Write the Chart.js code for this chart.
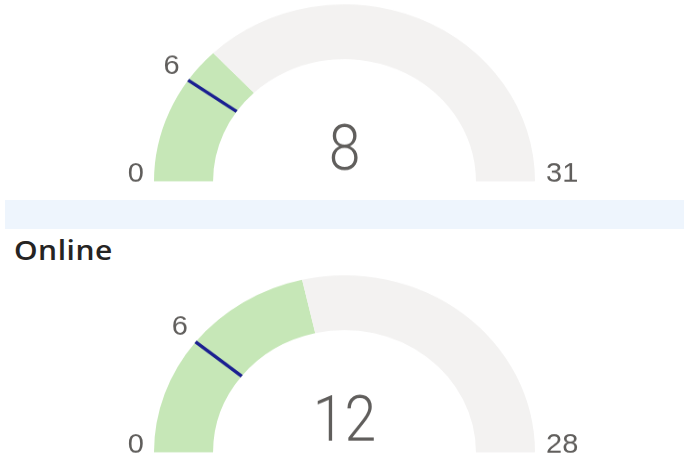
<!DOCTYPE html>
<html>
<head>
<meta charset="utf-8">
<script src="https://cdn.jsdelivr.net/npm/chart.js@4.4.1/dist/chart.umd.min.js"></script>
<style>
  body { margin: 0; width: 684px; height: 459px; overflow: hidden; background: #fff; position: relative; }
  .gauge { position: absolute; left: 0; width: 684px; height: 205px; transform: scaleY(0.929); transform-origin: 0 0; }
  #gauge-top { top: -5.3px; }
  #gauge-online { top: 265.7px; }
  .band { position: absolute; left: 5px; top: 200px; width: 679px; height: 29px; background: #EEF5FD; }
  .title { position: absolute; left: 14px; top: 236px; font: 600 30px "Open Sans", sans-serif; color: #252423;
           letter-spacing: 0.5px; transform: scaleY(0.929); transform-origin: 0 0; line-height: 1; }
</style>
</head>
<body>
<canvas id="gauge-top" class="gauge" width="684" height="205"></canvas>
<div class="band"></div>
<div class="title" id="title-online"></div>
<canvas id="gauge-online" class="gauge" width="684" height="205"></canvas>
<script>
// -----------------------------
// DATA
// -----------------------------
const gaugeTitles = ["", "Online"];
const gaugeValues = [8, 12];
const gaugeMins = [0, 0];
const gaugeMaxes = [31, 28];
const gaugeTargets = [6, 6];

const FILL = "#C6E7B7";
const TRACK = "#F3F2F1";
const TARGET = "#1B2091";
const LABEL = "#605E5C";

// -----------------------------
// LABELS + TARGET LINE
// -----------------------------
function gaugePlugin(i) {
  return {
    id: "gaugeLabels" + i,
    afterDraw(chart) {
      const arc = chart.getDatasetMeta(0).data[0];
      const { x, y, innerRadius, outerRadius } = arc;
      const ctx = chart.ctx;
      const min = gaugeMins[i], max = gaugeMaxes[i];
      const a = -Math.PI + (gaugeTargets[i] - min) / (max - min) * Math.PI;

      ctx.save();
      // target line
      ctx.strokeStyle = TARGET;
      ctx.lineWidth = 3.5;
      ctx.beginPath();
      ctx.moveTo(x + innerRadius * Math.cos(a), y + innerRadius * Math.sin(a));
      ctx.lineTo(x + outerRadius * Math.cos(a), y + outerRadius * Math.sin(a));
      ctx.stroke();

      // min / max / target labels
      ctx.fillStyle = LABEL;
      ctx.font = '29px "Liberation Sans", sans-serif';
      ctx.textBaseline = "alphabetic";
      ctx.textAlign = "right";
      ctx.fillText(String(min), x - outerRadius - 10, y);
      ctx.textAlign = "left";
      ctx.fillText(String(max), x + outerRadius + 11, y);
      ctx.textAlign = "center";
      ctx.textBaseline = "middle";
      const r = outerRadius + 24;
      ctx.fillText(String(gaugeTargets[i]), x + r * Math.cos(a) + 3, y + r * Math.sin(a) - 1);

      // value in the middle, light and condensed
      ctx.font = '300 68px Roboto, sans-serif';
      ctx.textBaseline = "alphabetic";
      ctx.translate(x, y - 13);
      ctx.scale(0.84, 1);
      ctx.fillText(String(gaugeValues[i]), 0, 0);
      ctx.restore();
    }
  };
}

function buildGauge(canvasId, i) {
  const ctx = document.getElementById(canvasId).getContext("2d");
  const val = gaugeValues[i], min = gaugeMins[i], max = gaugeMaxes[i];
  return new Chart(ctx, {
    type: "doughnut",
    data: {
      datasets: [{
        data: [val - min, max - val],
        backgroundColor: [FILL, TRACK],
        borderWidth: 0
      }]
    },
    options: {
      responsive: false,
      maintainAspectRatio: false,
      animation: false,
      rotation: -90,
      circumference: 180,
      cutout: "69%",
      layout: { padding: { left: 154, right: 149, top: 10, bottom: 4.5 } },
      plugins: { legend: { display: false }, tooltip: { enabled: false } }
    },
    plugins: [gaugePlugin(i)]
  });
}

document.getElementById("title-online").textContent = gaugeTitles[1];
buildGauge("gauge-top", 0);
buildGauge("gauge-online", 1);
</script>
</body>
</html>
